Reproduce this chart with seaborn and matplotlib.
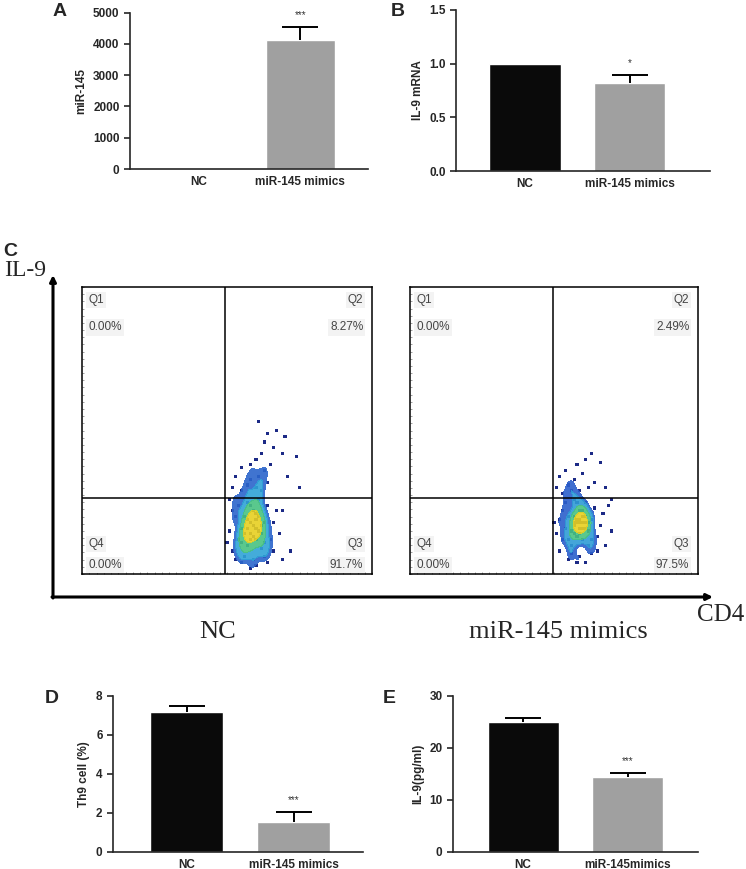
import numpy as np
import pandas as pd
import seaborn as sns
import matplotlib.pyplot as plt
from matplotlib.colors import LinearSegmentedColormap

# ---- bar chart data ----
cats = ["NC", "miR-145 mimics"]
e_cats = ["NC", "miR-145mimics"]
a_vals = [1, 4120]
a_err = [0, 430]
b_vals = [1.0, 0.82]
b_err = [0, 0.075]
d_vals = [7.16, 1.51]
d_err = [0.33, 0.55]
e_vals = [25.05, 14.4]
e_err = [0.75, 0.8]

# ---- flow cytometry events (CD4 %, IL-9 %) ----
nc_cd4 = [52, 54, 55, 56, 57, 58, 58, 59, 60, 60, 61, 62, 62, 63, 64, 65, 53, 54, 56, 57,
          59, 61, 63, 66, 67, 51, 52, 55, 58, 60, 64, 66, 57, 59, 60, 58, 56, 61, 59, 57,
          62, 55, 60, 58, 63, 50, 51, 53, 68, 69,
          52, 55, 57, 58, 60, 61, 62, 63, 64, 58, 60, 62, 65, 66, 63, 67, 64, 70, 61, 69,
          55, 53, 71, 74, 69, 72, 75]
nc_il9 = [8, 12, 16, 20, 10, 14, 18, 22, 12, 16, 20, 9, 14, 18, 24, 12, 20, 24, 6, 25,
          5, 26, 6, 18, 22, 15, 22, 4, 2, 3, 4, 8, 16, 17, 19, 12, 14, 15, 13, 19,
          17, 11, 21, 24, 11, 11, 26, 5, 14, 5,
          30, 29, 31, 33, 30, 34, 29, 36, 32, 38, 40, 42, 38, 44, 46, 50, 49, 48, 53, 42,
          37, 34, 34, 41, 22, 8, 30]
mim_cd4 = [52, 53, 54, 55, 56, 57, 58, 59, 60, 60, 61, 62, 62, 63, 64, 65, 53, 54, 56, 57,
           59, 61, 63, 66, 67, 51, 52, 55, 58, 61, 65, 57, 59, 60, 58, 56, 61, 59, 57, 62,
           55, 60, 58, 63, 59, 58, 60, 59, 57, 61, 50, 68, 69, 70,
           51, 53, 55, 57, 59, 60, 62, 64, 54, 58, 61, 63, 66, 52, 68, 70, 56]
mim_il9 = [8, 12, 16, 20, 10, 14, 18, 22, 12, 16, 20, 10, 15, 19, 23, 13, 22, 25, 7, 26,
           6, 25, 7, 17, 21, 14, 19, 5, 4, 4, 8, 17, 18, 20, 13, 15, 16, 14, 20, 18,
           12, 22, 25, 12, 19, 19, 18, 16, 18, 18, 18, 10, 24, 15,
           30, 28, 31, 33, 29, 35, 30, 32, 36, 38, 40, 42, 39, 34, 30, 26, 29]
q_names = ["Q1", "Q2", "Q3", "Q4"]
nc_pct = ["0.00%", "8.27%", "91.7%", "0.00%"]
mim_pct = ["0.00%", "2.49%", "97.5%", "0.00%"]

sns.set_style("ticks")
plt.rcParams['font.family'] = ['Liberation Sans', 'DejaVu Sans']

fig = plt.figure(figsize=(7.46, 8.69), dpi=100)


def px_axes(x0, y0, x1, y1):
    return fig.add_axes([x0 / 746, 1 - y1 / 869, (x1 - x0) / 746, (y1 - y0) / 869])


def bar_panel(rect, labels, vals, errs, ymax, step, ylabel, stars, xlim, fmt):
    ax = px_axes(*rect)
    df = pd.DataFrame({"group": labels, "value": vals})
    sns.barplot(data=df, x="group", y="value", hue="group",
                palette=["#0a0a0a", "#a0a0a0"], saturation=1, width=0.68,
                legend=False, errorbar=None, ax=ax)
    for i, (v, e) in enumerate(zip(vals, errs)):
        if e > 0:
            _, caps, _ = ax.errorbar([i], [v], yerr=[[0], [e]], fmt="none", ecolor="black",
                                     elinewidth=1.4, capsize=13, capthick=1.4, zorder=3)
            caps[0].set_visible(False)
    ax.text(1, vals[1] + errs[1] + 0.075 * ymax, stars, ha="center", va="center",
            fontsize=7, color="#333333")
    ax.set_xlim(*xlim)
    ax.set_ylim(0, ymax)
    ax.set_yticks(np.arange(0, ymax + step / 2, step))
    ax.set_yticklabels([fmt.format(t) for t in np.arange(0, ymax + step / 2, step)])
    ax.set_xlabel("")
    ax.set_ylabel(ylabel, fontsize=8.5, fontweight="bold")
    for lab in ax.get_xticklabels() + ax.get_yticklabels():
        lab.set_fontweight("bold")
    ax.tick_params(axis="y", labelsize=8.5, length=4, width=1.2)
    ax.tick_params(axis="x", labelsize=8.5, length=0, pad=5)
    sns.despine(ax=ax)
    for s in ["left", "bottom"]:
        ax.spines[s].set_linewidth(1.2)
    return ax


bar_panel((130, 12.7, 368, 169), cats, a_vals, a_err, 5000, 1000, "miR-145", "***",
          (-0.68, 1.67), "{:.0f}")
bar_panel((456, 10, 710, 171), cats, b_vals, b_err, 1.5, 0.5, "IL-9 mRNA", "*",
          (-0.66, 1.77), "{:.1f}")
bar_panel((113, 696, 363, 851.7), cats, d_vals, d_err, 8, 2, "Th9 cell (%)", "***",
          (-0.69, 1.65), "{:.0f}")
bar_panel((453, 696, 698, 851.7), e_cats, e_vals, e_err, 30, 10, "IL-9(pg/ml)", "***",
          (-0.67, 1.67), "{:.0f}")

flow_cmap = LinearSegmentedColormap.from_list(
    "flow", ["#2a50c8", "#30b0d8", "#3cc08a", "#9ed040", "#e8d020", "#d83a20"])


def flow_panel(rect, cd4, il9, pcts, gate_x):
    ax = px_axes(*rect)
    sns.scatterplot(x=cd4, y=il9, s=5, marker="s", color="#1c2a86", edgecolor="none",
                    ax=ax, zorder=2)
    sns.kdeplot(x=cd4, y=il9, fill=True, levels=5, thresh=0.45, bw_adjust=0.6, alpha=0.9,
                cmap=flow_cmap, clip=((gate_x + 0.4, 100), (0.5, 100)), ax=ax, zorder=3)
    ax.axvline(gate_x, color="black", lw=1.1, zorder=4)
    ax.axhline(26.5, color="black", lw=1.1, zorder=4)
    ax.set_xlim(0, 100)
    ax.set_ylim(0, 100)
    ax.set_xticks(np.arange(0, 101, 2.5))
    ax.set_yticks(np.arange(0, 101, 2.5))
    ax.set_xticklabels([])
    ax.set_yticklabels([])
    ax.tick_params(direction="in", length=1.5, width=0.5, color="#777777",
                   top=False, right=False)
    ax.set_xlabel("")
    ax.set_ylabel("")
    for s in ax.spines.values():
        s.set_linewidth(1.1)
        s.set_color("black")
    box = dict(facecolor="#f3f3f3", edgecolor="none", pad=1.5)
    tk = dict(fontsize=8.5, color="#444444", va="top", bbox=box)
    ax.text(2.2, 97.5, q_names[0], ha="left", **tk)
    ax.text(2.2, 88, pcts[0], ha="left", **tk)
    ax.text(97, 97.5, q_names[1], ha="right", **tk)
    ax.text(97, 88, pcts[1], ha="right", **tk)
    ax.text(97, 12.5, q_names[2], ha="right", **tk)
    ax.text(97, 5.2, pcts[2], ha="right", **tk)
    ax.text(2.2, 12.5, q_names[3], ha="left", **tk)
    ax.text(2.2, 5.2, pcts[3], ha="left", **tk)
    return ax


flow_panel((82, 287, 372, 574), nc_cd4, nc_il9, nc_pct, 49.3)
flow_panel((410, 287, 698, 574), mim_cd4, mim_il9, mim_pct, 49.7)

# overlay for big axis arrows, serif labels and panel letters
ov = fig.add_axes([0, 0, 1, 1], zorder=-1)
ov.set_xlim(0, 746)
ov.set_ylim(869, 0)
ov.axis("off")
arrow = dict(arrowstyle="-|>", lw=2.2, color="black", mutation_scale=9, shrinkA=0, shrinkB=0)
ov.annotate("", xy=(53, 275), xytext=(53, 598), arrowprops=arrow)
ov.annotate("", xy=(713, 597), xytext=(52, 597), arrowprops=arrow)
serif = ['Liberation Serif', 'DejaVu Serif']
ov.text(4, 270, "IL-9", family=serif, fontsize=17, ha="left", va="center")
ov.text(697, 615, "CD4", family=serif, fontsize=18, ha="left", va="center")
ov.text(218, 632, "NC", family=serif, fontsize=19, ha="center", va="center")
ov.text(558, 632, "miR-145 mimics", family=serif, fontsize=19, ha="center", va="center")
for letter, x, y in [("A", 53, 3), ("B", 391, 3), ("C", 3, 243), ("D", 45, 690), ("E", 383, 690)]:
    ov.text(x, y, letter, fontsize=14, fontweight="bold", ha="left", va="top")

fig.savefig("out.png", dpi=100)
